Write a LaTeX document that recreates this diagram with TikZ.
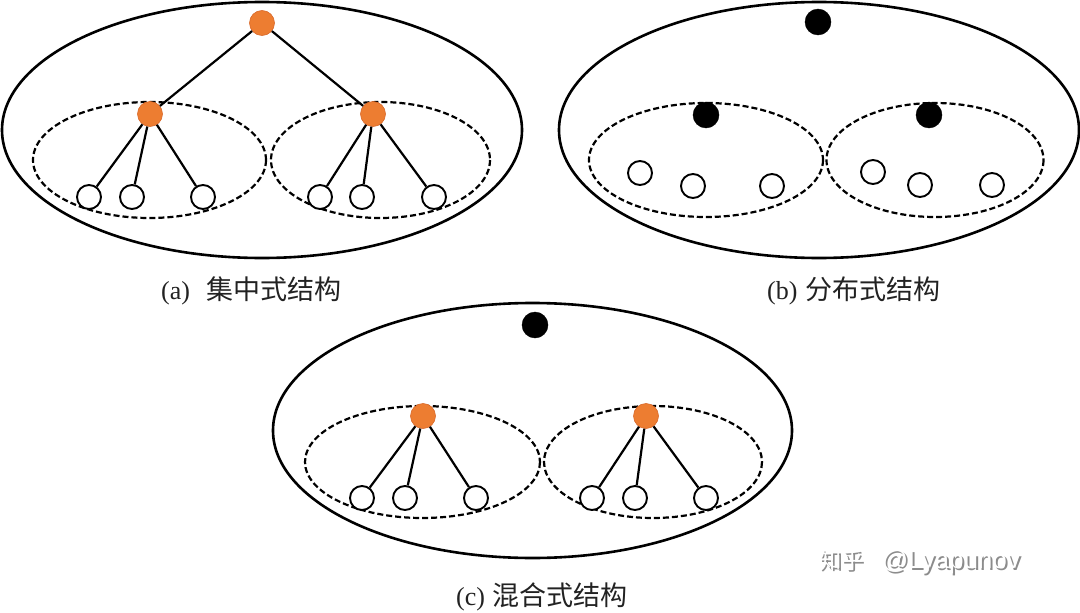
\documentclass[tikz,border=0pt]{standalone}
\usepackage{fontspec}
\setmainfont{Liberation Serif}
\newfontfamily\cjk{Noto Sans CJK SC}
\newfontfamily\wmfont{Liberation Sans}
\definecolor{nodeorange}{HTML}{ED7D31}
\definecolor{nodeorangeedge}{HTML}{D9692A}
\definecolor{captext}{HTML}{222222}
\begin{document}
\begin{tikzpicture}[x=1pt,y=-1pt,
  outer/.style={draw=black,line width=2.6pt},
  group/.style={draw=black,line width=2.2pt,dash pattern=on 6pt off 3pt},
  orangenode/.style={circle,minimum size=25pt,inner sep=0pt,fill=nodeorange,draw=nodeorangeedge,line width=0.6pt},
  blacknode/.style={circle,minimum size=26pt,inner sep=0pt,fill=black,draw=black},
  leafnode/.style={circle,minimum size=24pt,inner sep=0pt,fill=white,draw=black,line width=1.9pt},
  link/.style={draw=black,line width=2.2pt},
  caption/.style={anchor=west,inner sep=0pt,text=captext,font=\fontsize{26}{28}\selectfont},
  watermark/.style={anchor=west,inner sep=0pt,font=\fontsize{22}{24}\selectfont}
]
\useasboundingbox (0,0) rectangle (1080,613);

% ---------- (a) centralized ----------
\draw[outer] (262,130) ellipse [x radius=260,y radius=128];
\draw[group] (149.5,160) ellipse [x radius=116.5,y radius=58];
\draw[group] (380.5,160) ellipse [x radius=109.5,y radius=58];
\node[orangenode] (aT) at (262,23) {};
\node[orangenode] (aM1) at (150,114) {};
\node[orangenode] (aM2) at (373,114) {};
\node[leafnode] (aL1) at (89,197) {};
\node[leafnode] (aL2) at (132,197) {};
\node[leafnode] (aL3) at (203,197) {};
\node[leafnode] (aL4) at (320,197) {};
\node[leafnode] (aL5) at (362,197) {};
\node[leafnode] (aL6) at (434,197) {};
\draw[link] (aT) -- (aM1);
\draw[link] (aT) -- (aM2);
\foreach \l in {aL1,aL2,aL3} \draw[link] (aM1) -- (\l);
\foreach \l in {aL4,aL5,aL6} \draw[link] (aM2) -- (\l);
\node[caption] (acap) at (161,291) {(a)\hspace{16pt}{\cjk\fontsize{27}{28}\selectfont 集中式结构}};

% ---------- (b) distributed ----------
\draw[outer] (819,130) ellipse [x radius=260,y radius=128];
\draw[group] (706,160) ellipse [x radius=117,y radius=57];
\draw[group] (935,160) ellipse [x radius=108.5,y radius=57];
\node[blacknode] (bT) at (818,22) {};
\node[blacknode] (bM1) at (706,115) {};
\node[blacknode] (bM2) at (929,115) {};
\node[leafnode] (bL1) at (640,173) {};
\node[leafnode] (bL2) at (693,186) {};
\node[leafnode] (bL3) at (772,186) {};
\node[leafnode] (bL4) at (873,172) {};
\node[leafnode] (bL5) at (920,185) {};
\node[leafnode] (bL6) at (992,185) {};
\node[caption] (bcap) at (767,291) {(b)\hspace{8pt}{\cjk\fontsize{27}{28}\selectfont 分布式结构}};

% ---------- (c) hybrid ----------
\draw[outer] (532.5,430.5) ellipse [x radius=259.5,y radius=127.5];
\draw[group] (422.5,462) ellipse [x radius=117.5,y radius=56];
\draw[group] (653,462) ellipse [x radius=109,y radius=56];
\node[blacknode] (cT) at (535,325) {};
\node[orangenode] (cM1) at (423,416) {};
\node[orangenode] (cM2) at (646,416) {};
\node[leafnode] (cL1) at (362,498) {};
\node[leafnode] (cL2) at (405,498) {};
\node[leafnode] (cL3) at (476,498) {};
\node[leafnode] (cL4) at (592,498) {};
\node[leafnode] (cL5) at (635,498) {};
\node[leafnode] (cL6) at (706,498) {};
\foreach \l in {cL1,cL2,cL3} \draw[link] (cM1) -- (\l);
\foreach \l in {cL4,cL5,cL6} \draw[link] (cM2) -- (\l);
\node[caption] (ccap) at (456,597) {(c)\hspace{7pt}{\cjk\fontsize{27}{28}\selectfont 混合式结构}};

% ---------- watermark ----------
\node[watermark,text=black!45] (wm1) at (821.5,563.5) {{\cjk 知乎}\hspace{18pt}{\wmfont\fontsize{26}{28}\selectfont @Lyapunov}};
\node[watermark,text=white] (wm2) at (819.5,561.5) {{\cjk 知乎}\hspace{18pt}{\wmfont\fontsize{26}{28}\selectfont @Lyapunov}};
\end{tikzpicture}
\end{document}
